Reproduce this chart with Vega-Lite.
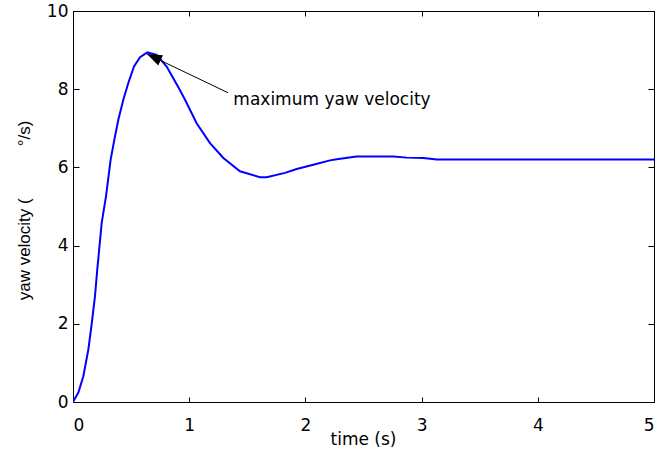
{
  "$schema": "https://vega.github.io/schema/vega-lite/v6.json",
  "width": 581,
  "height": 391,
  "autosize": {"type": "none"},
  "padding": {"left": 73, "top": 11, "right": 12, "bottom": 53},
  "background": "white",
  "config": {
    "view": {"stroke": "#000000", "strokeWidth": 1},
    "axis": {
      "grid": false,
      "domain": false,
      "ticks": true,
      "tickColor": "#000000",
      "tickWidth": 1,
      "labelColor": "#000000",
      "labelFont": "DejaVu Sans",
      "labelFontSize": 17,
      "titleColor": "#000000",
      "titleFont": "DejaVu Sans",
      "titleFontSize": 17,
      "titleFontWeight": "normal"
    }
  },
  "datasets": {
    "curve": [
      {"t": 0, "v": 0},
      {"t": 0.046, "v": 0.24},
      {"t": 0.089, "v": 0.66},
      {"t": 0.132, "v": 1.34},
      {"t": 0.161, "v": 2.0},
      {"t": 0.189, "v": 2.7},
      {"t": 0.209, "v": 3.39},
      {"t": 0.247, "v": 4.58},
      {"t": 0.284, "v": 5.26},
      {"t": 0.324, "v": 6.2},
      {"t": 0.356, "v": 6.71},
      {"t": 0.39, "v": 7.22},
      {"t": 0.433, "v": 7.73},
      {"t": 0.476, "v": 8.16},
      {"t": 0.525, "v": 8.58},
      {"t": 0.577, "v": 8.82},
      {"t": 0.64, "v": 8.94},
      {"t": 0.72, "v": 8.88},
      {"t": 0.806, "v": 8.58},
      {"t": 0.92, "v": 7.98},
      {"t": 0.964, "v": 7.73},
      {"t": 1.064, "v": 7.13},
      {"t": 1.179, "v": 6.62},
      {"t": 1.294, "v": 6.24},
      {"t": 1.437, "v": 5.9},
      {"t": 1.609, "v": 5.75},
      {"t": 1.667, "v": 5.75},
      {"t": 1.824, "v": 5.86},
      {"t": 1.925, "v": 5.96},
      {"t": 2.068, "v": 6.07},
      {"t": 2.212, "v": 6.18},
      {"t": 2.27, "v": 6.21},
      {"t": 2.44, "v": 6.28},
      {"t": 2.757, "v": 6.28},
      {"t": 2.872, "v": 6.25},
      {"t": 3.015, "v": 6.24},
      {"t": 3.13, "v": 6.2},
      {"t": 5, "v": 6.2}
    ],
    "arrow": [
      {"t": 0.637, "v": 8.9, "t2": 1.334, "v2": 7.91}
    ],
    "note": [
      {"t": 1.38, "v": 7.73, "label": "maximum yaw velocity"}
    ]
  },
  "layer": [
    {
      "data": {"name": "curve"},
      "mark": {"type": "line", "color": "#0000FF", "strokeWidth": 2, "clip": true},
      "encoding": {
        "x": {
          "field": "t", "type": "quantitative",
          "scale": {"domain": [0, 5], "nice": false, "zero": false},
          "axis": {
            "orient": "bottom",
            "offset": -5,
            "values": [0, 1, 2, 3, 4, 5],
            "tickSize": 5,
            "labelPadding": 15,
            "title": "time (s)",
            "titleBaseline": "alphabetic",
            "titleY": 47,
            "titleX": 290
          }
        },
        "y": {
          "field": "v", "type": "quantitative",
          "scale": {"domain": [0, 10], "nice": false, "zero": false},
          "axis": {
            "orient": "left",
            "offset": -6,
            "values": [0, 2, 4, 6, 8, 10],
            "tickSize": 6,
            "labelPadding": 5,
            "title": "yaw velocity (\u00a0\u00a0\u00a0\u00a0\u00a0\u00a0\u00a0\u00a0\u00a0\u00a0\u00a0°/s)",
            "titleFont": "Liberation Sans",
            "titleAngle": 270,
            "titleAlign": "center",
            "titleBaseline": "bottom",
            "titleX": -46,
            "titleY": 199
          }
        }
      }
    },
    {
      "data": {"name": "arrow"},
      "mark": {"type": "rule", "color": "#000000", "strokeWidth": 1},
      "encoding": {
        "x": {
          "field": "t", "type": "quantitative",
          "axis": {"orient": "top", "offset": -5, "values": [0, 1, 2, 3, 4, 5], "tickSize": 5, "labels": false, "title": null}
        },
        "x2": {"field": "t2"},
        "y": {
          "field": "v", "type": "quantitative",
          "axis": {"orient": "right", "offset": -6, "values": [0, 2, 4, 6, 8, 10], "tickSize": 6, "labels": false, "title": null}
        },
        "y2": {"field": "v2"}
      }
    },
    {
      "data": {"name": "arrow"},
      "mark": {
        "type": "point",
        "shape": "M0,0L0.75,2L-0.75,2Z",
        "size": 225,
        "angle": 295,
        "filled": true,
        "color": "#000000",
        "opacity": 1
      },
      "encoding": {
        "x": {"field": "t", "type": "quantitative", "axis": null},
        "y": {"field": "v", "type": "quantitative", "axis": null}
      }
    },
    {
      "data": {"name": "note"},
      "mark": {
        "type": "text",
        "align": "left",
        "baseline": "middle",
        "font": "DejaVu Sans",
        "fontSize": 17,
        "color": "#000000"
      },
      "encoding": {
        "x": {"field": "t", "type": "quantitative", "axis": null},
        "y": {"field": "v", "type": "quantitative", "axis": null},
        "text": {"field": "label"}
      }
    }
  ],
  "resolve": {"axis": {"x": "independent", "y": "independent"}}
}
